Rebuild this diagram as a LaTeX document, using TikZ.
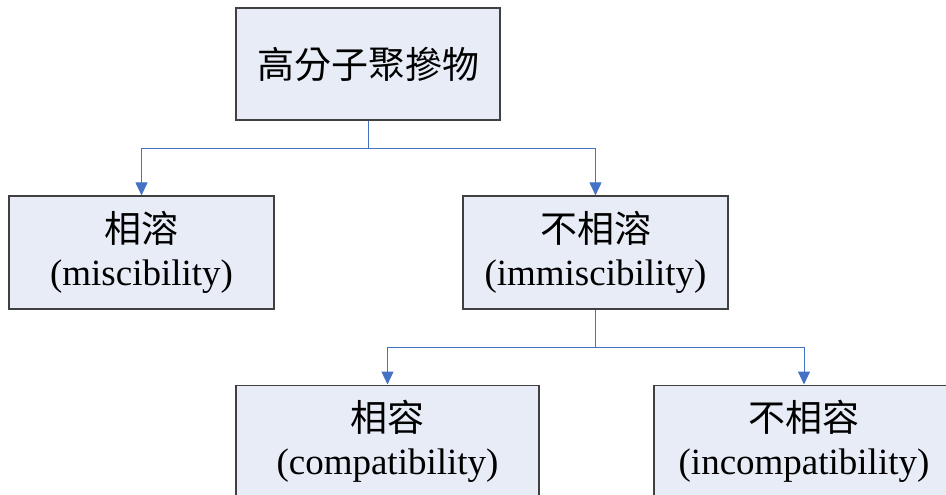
\documentclass[tikz,border=0pt]{standalone}
\usepackage{fontspec}
\setmainfont{Liberation Serif}
\newfontfamily\cjk{Noto Sans CJK TC}
\usetikzlibrary{arrows.meta}
\definecolor{boxfill}{RGB}{231,236,246}
\definecolor{boxline}{RGB}{64,64,64}
\definecolor{linkblue}{RGB}{68,114,196}
\tikzset{
  box/.style={draw=boxline, fill=boxfill, line width=1.2pt, align=center,
    inner sep=0pt, font=\fontsize{37}{43}\selectfont},
  link/.style={draw=linkblue, line width=1pt, -{Triangle[width=12pt,length=13pt]}}
}
\begin{document}
\begin{tikzpicture}[x=1pt, y=-1pt]
    % Fix the frame and cut the boxes at the lower and right edge
    \useasboundingbox (0,0) rectangle (946,495);
    \clip (0,0) rectangle (946,495);

    % Top box
    \node[box, minimum width=264pt, minimum height=112pt] (blend) at (368,64) {{\cjk 高分子聚摻物}};

    % Second row
    \node[box, minimum width=265pt, minimum height=113pt] (misc) at (141.5,252.5)
      {{\cjk 相溶}\\(miscibility)};
    \node[box, minimum width=265pt, minimum height=113pt] (immisc) at (595.5,252.5)
      {{\cjk 不相溶}\\(immiscibility)};

    % Third row, cut by the frame
    \node[box, anchor=north, minimum width=303pt, minimum height=113pt] (compat) at (387.5,384.5)
      {{\cjk 相容}\\(compatibility)};
    \node[box, anchor=north, minimum width=300pt, minimum height=113pt] (incompat) at (804,384.5)
      {{\cjk 不相容}\\(incompatibility)};

    % Connectors
    \coordinate (fork1) at (368,148);
    \coordinate (fork2) at (595.5,347);
    \draw[link] (blend.south) -- (fork1) -| (misc.north);
    \draw[link] (fork1) -| (immisc.north);
    \draw[link] (immisc.south) -- (fork2) -| (compat.north);
    \draw[link] (fork2) -| (incompat.north);
\end{tikzpicture}
\end{document}
